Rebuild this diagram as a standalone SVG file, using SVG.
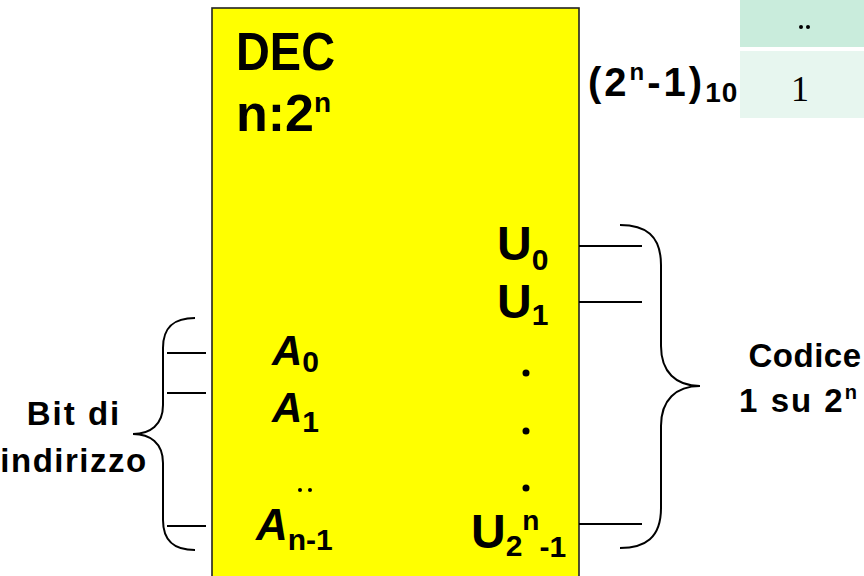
<svg xmlns="http://www.w3.org/2000/svg" width="864" height="576" viewBox="0 0 864 576">
<style>
.t{font-family:"Liberation Sans","DejaVu Sans",sans-serif;font-weight:bold;fill:#000}
.ln{stroke:#000;stroke-width:1.8;fill:none}
.br{stroke:#000;stroke-width:2;fill:none}
.tm{font-family:"Liberation Serif","Times New Roman",serif;fill:#000}
</style>
<rect width="864" height="576" fill="#fff"/>
<g id="table">
<rect x="740" y="0" width="124" height="47" fill="#c9ecdc"/>
<rect x="740" y="51" width="124" height="67" fill="#e7f6ef"/>
<circle cx="801" cy="27" r="2"/>
<circle cx="808" cy="27" r="2"/>
<text class="tm" x="800" y="101" font-size="36" text-anchor="middle">1</text>
</g>
<g id="decoder">
<rect x="212" y="8" width="367" height="580" fill="#ffff00" stroke="#222" stroke-width="1.6"/>
<text class="t" x="236" y="70" font-size="54" textLength="99" lengthAdjust="spacingAndGlyphs">DEC</text>
<text class="t" x="236" y="131" font-size="52">n:2<tspan font-size="28" dy="-19">n</tspan></text>
<text class="t" x="497" y="260" font-size="48">U<tspan font-size="30" dy="10">0</tspan></text>
<text class="t" x="497" y="318" font-size="48">U<tspan font-size="30" dy="7">1</tspan></text>
<circle cx="526" cy="373" r="3.5"/>
<circle cx="526" cy="431" r="3.5"/>
<circle cx="526" cy="488" r="3.5"/>
<text class="t" x="471" y="548" font-size="48">U<tspan font-size="30" dy="8">2</tspan><tspan font-size="28" dy="-26">n</tspan><tspan font-size="30" dy="27">-1</tspan></text>
<text class="t" x="272" y="365" font-size="42" font-style="italic">A<tspan font-size="30" font-style="normal" dy="7">0</tspan></text>
<text class="t" x="272" y="422" font-size="42" font-style="italic">A<tspan font-size="30" font-style="normal" dy="10">1</tspan></text>
<circle cx="300" cy="490" r="2"/>
<circle cx="310" cy="490" r="2"/>
<text class="t" x="256" y="540" font-size="44" font-style="italic">A<tspan font-size="30" font-style="normal" dy="10">n-1</tspan></text>
</g>
<g id="label-max">
<text class="t" x="588" y="96" font-size="40" letter-spacing="3">(2<tspan font-size="24" dy="-16">n</tspan><tspan dy="16">-1)</tspan><tspan font-size="28" dy="6" letter-spacing="1">10</tspan></text>
</g>
<g id="label-input">
<text class="t" x="74" y="425" font-size="33" letter-spacing="2" text-anchor="middle">Bit di</text>
<text class="t" x="74" y="472" font-size="33" letter-spacing="1.5" text-anchor="middle">indirizzo</text>
</g>
<g id="label-output">
<text class="t" x="805" y="367" font-size="33" letter-spacing="0.5" text-anchor="middle">Codice</text>
<text class="t" x="799" y="412" font-size="33" letter-spacing="2" text-anchor="middle">1 su 2<tspan font-size="20" dy="-13">n</tspan></text>
</g>
<g id="connectors">
<line class="ln" x1="167" y1="353" x2="206" y2="353"/>
<line class="ln" x1="167" y1="393" x2="206" y2="393"/>
<line class="ln" x1="167" y1="526" x2="206" y2="526"/>
<line class="ln" x1="579" y1="246" x2="642" y2="246"/>
<line class="ln" x1="579" y1="302" x2="642" y2="302"/>
<line class="ln" x1="579" y1="524" x2="642" y2="524"/>
<path class="br" d="M195 318 C175 318 163 326 163 348 L163 405 C163 425 150 434 133 434 C150 434 163 443 163 463 L163 520 C163 542 175 550 195 550"/>
<path class="br" d="M620 225 C645 225 661 235 661 265 L661 346 C661 372 676 386 700 386 C676 386 661 400 661 426 L661 508 C661 538 645 548 620 548"/>
</g>
</svg>
